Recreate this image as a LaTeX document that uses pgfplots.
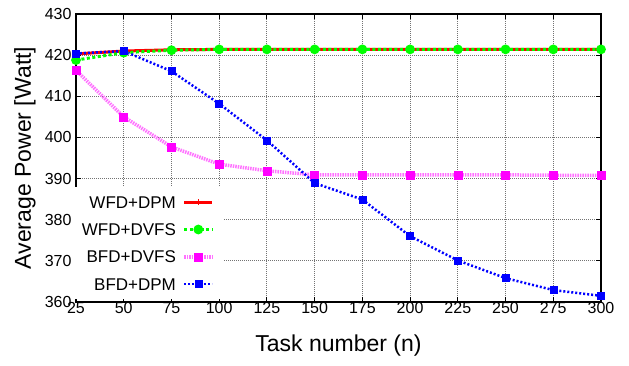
\documentclass[border=0pt]{standalone}
\usepackage{fontspec}
\setmainfont{Liberation Sans}
\usepackage{pgfplots}
\pgfplotsset{compat=1.18}
\definecolor{gred}{RGB}{255,0,0}
\definecolor{ggreen}{RGB}{0,255,0}
\definecolor{gmag}{RGB}{255,0,255}
\definecolor{gblue}{RGB}{0,0,255}
\begin{document}
\begin{tikzpicture}
\begin{axis}[
  name=ax,
  scale only axis,
  width=525pt, height=288pt,
  xmin=25, xmax=300, ymin=360, ymax=430,
  xtick={25,50,...,300},
  ytick={360,370,...,430},
  /pgf/number format/assume math mode=true,
  tick label style={font=\fontsize{16}{19}\selectfont},
  xticklabel style={yshift=3pt},
  yticklabel style={xshift=-1pt},
  tick align=inside,
  major tick length=5pt,
  every tick/.style={black, line width=0.9pt},
  axis line style={line width=1.2pt},
  grid=major,
  major grid style={black!55, dash pattern=on 1pt off 1pt, line width=0.9pt},
  xlabel={Task number (n)},
  ylabel={Average Power [Watt]},
  label style={font=\fontsize{23}{27}\selectfont},
  xlabel style={at={(axis description cs:0.5,-0.1528)}, anchor=center},
  ylabel style={at={(axis description cs:-0.0971,0.5)}, anchor=center},
  legend plot pos=right,
  legend cell align=right,
  legend style={draw=none, fill=white, inner xsep=8.5pt, inner ysep=9pt,
    at={(rel axis cs:0.2796,0.0094)}, anchor=south east,
    font=\fontsize{17}{20}\selectfont,
    nodes={inner sep=0pt, text height=12pt, text depth=0pt},
    row sep=15.3pt, column sep=6.7pt},
  legend image code/.code={\draw[mark repeat=2,mark phase=2] plot coordinates {(0pt,0pt)(14pt,0pt)(28pt,0pt)};},
]
\addplot[gred, line width=3pt, mark=+, mark size=3pt, mark options={solid, line width=1.5pt}]
  coordinates {(25,420.3)(50,421.0)(75,421.3)(100,421.4)(125,421.4)(150,421.4)(175,421.4)(200,421.4)(225,421.4)(250,421.4)(275,421.4)(300,421.4)};
\addlegendentry{WFD+DPM}
\addplot[ggreen, line width=3pt, dash pattern=on 3pt off 2.5pt, mark=*, mark size=3.3pt, mark options={solid}]
  coordinates {(25,418.8)(50,420.6)(75,421.2)(100,421.4)(125,421.4)(150,421.4)(175,421.4)(200,421.4)(225,421.4)(250,421.4)(275,421.4)(300,421.4)};
\addlegendentry{WFD+DVFS}
\addplot[gmag!55, line width=3.5pt, dash pattern=on 1.5pt off 1pt, mark=square*, mark size=4pt, mark options={solid, gmag, line width=0.5pt}]
  coordinates {(25,416.3)(50,405.0)(75,397.7)(100,393.5)(125,391.9)(150,390.9)(175,390.9)(200,390.9)(225,390.9)(250,390.9)(275,390.8)(300,390.8)};
\addlegendentry{BFD+DVFS}
\addplot[gblue, line width=2.5pt, dash pattern=on 2pt off 2pt, mark=square*, mark size=3.5pt, mark options={solid, line width=0.5pt}]
  coordinates {(25,420.4)(50,421.0)(75,416.1)(100,408.2)(125,399.3)(150,388.9)(175,384.9)(200,376.0)(225,370.1)(250,365.8)(275,362.9)(300,361.5)};
\addlegendentry{BFD+DPM}
\end{axis}
\pgfresetboundingbox
\path[use as bounding box] (ax.south west) ++(-76pt,-63pt) rectangle ++(629pt,365pt);
\end{tikzpicture}
\end{document}
